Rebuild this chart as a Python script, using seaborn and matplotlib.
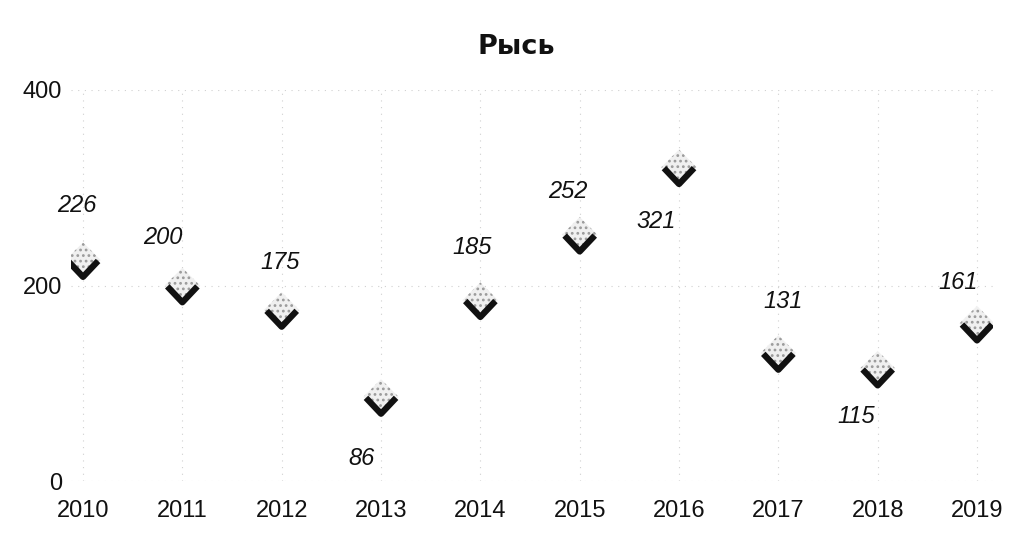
import matplotlib
matplotlib.use("Agg")
import matplotlib.pyplot as plt
import seaborn as sns
import pandas as pd
from matplotlib.path import Path

years = [2010, 2011, 2012, 2013, 2014, 2015, 2016, 2017, 2018, 2019]
values = [226, 200, 175, 86, 185, 252, 321, 131, 115, 161]
y_ticks = [0, 200, 400]
title = "Рысь"

# label offsets in points (style, not data)
label_offsets = [(-4.3, 39.6), (-14.4, 34.9), (-1.4, 34.5), (-14.4, -44.6),
                 (-5.8, 37.6), (-8.6, 30.8), (-16.6, -38.8), (3.6, 37.4),
                 (-15.8, -34.7), (-13.7, 29.9)]

sns.set_theme(style="white")
plt.rcParams['font.family'] = ['Liberation Sans', 'DejaVu Sans']
plt.rcParams['hatch.linewidth'] = 1.2

df = pd.DataFrame({"year": years, "value": values})

fig = plt.figure(figsize=(10.18, 5.36), dpi=100)
ax = fig.add_axes([71 / 1018, 55 / 536, 922 / 1018, 391 / 536])

diamond = Path([(0, 1), (1, 0), (0, -1), (-1, 0), (0, 1)],
               [Path.MOVETO, Path.LINETO, Path.LINETO, Path.LINETO, Path.CLOSEPOLY])
check = Path([(-1, 1), (-0.85, -0.05), (0, -0.95), (0.85, -0.05)],
             [Path.MOVETO, Path.MOVETO, Path.LINETO, Path.LINETO])

sns.scatterplot(data=df, x="year", y="value", marker=diamond, s=650,
                facecolor="#f0f0f0", edgecolor="#9a9a9a", linewidth=0,
                hatch="...", ax=ax, zorder=3)
sns.scatterplot(data=df, x="year", y="value", marker=check, s=650,
                facecolor="none", edgecolor="#111111", linewidth=4.5,
                ax=ax, zorder=4)

for x, y, off in zip(years, values, label_offsets):
    ax.annotate(str(y), (x, y), xytext=off, textcoords="offset points",
                ha="center", va="center", fontsize=17, fontstyle="italic",
                color="#111111")

ax.set_xlim(2009.879, 2019.161)
ax.set_ylim(0, 400)
ax.set_xticks(years)
ax.set_xticklabels([str(y) for y in years])
ax.set_yticks(y_ticks)
ax.tick_params(axis="x", pad=14, labelsize=17, length=0, colors="#111111")
ax.tick_params(axis="y", pad=6.5, labelsize=17, length=0, colors="#111111")
ax.grid(True, linestyle=(0, (1, 5)), color="#d0d0d0", linewidth=0.8)
for s in ax.spines.values():
    s.set_visible(False)
ax.set_xlabel("")
ax.set_ylabel("")

fig.text(516 / 1018, 1 - 47 / 536, title, ha="center", va="center",
         fontsize=19.5, fontweight="bold", family=["DejaVu Sans"], color="#111111")

fig.savefig("out.png", dpi=100, facecolor="white")
